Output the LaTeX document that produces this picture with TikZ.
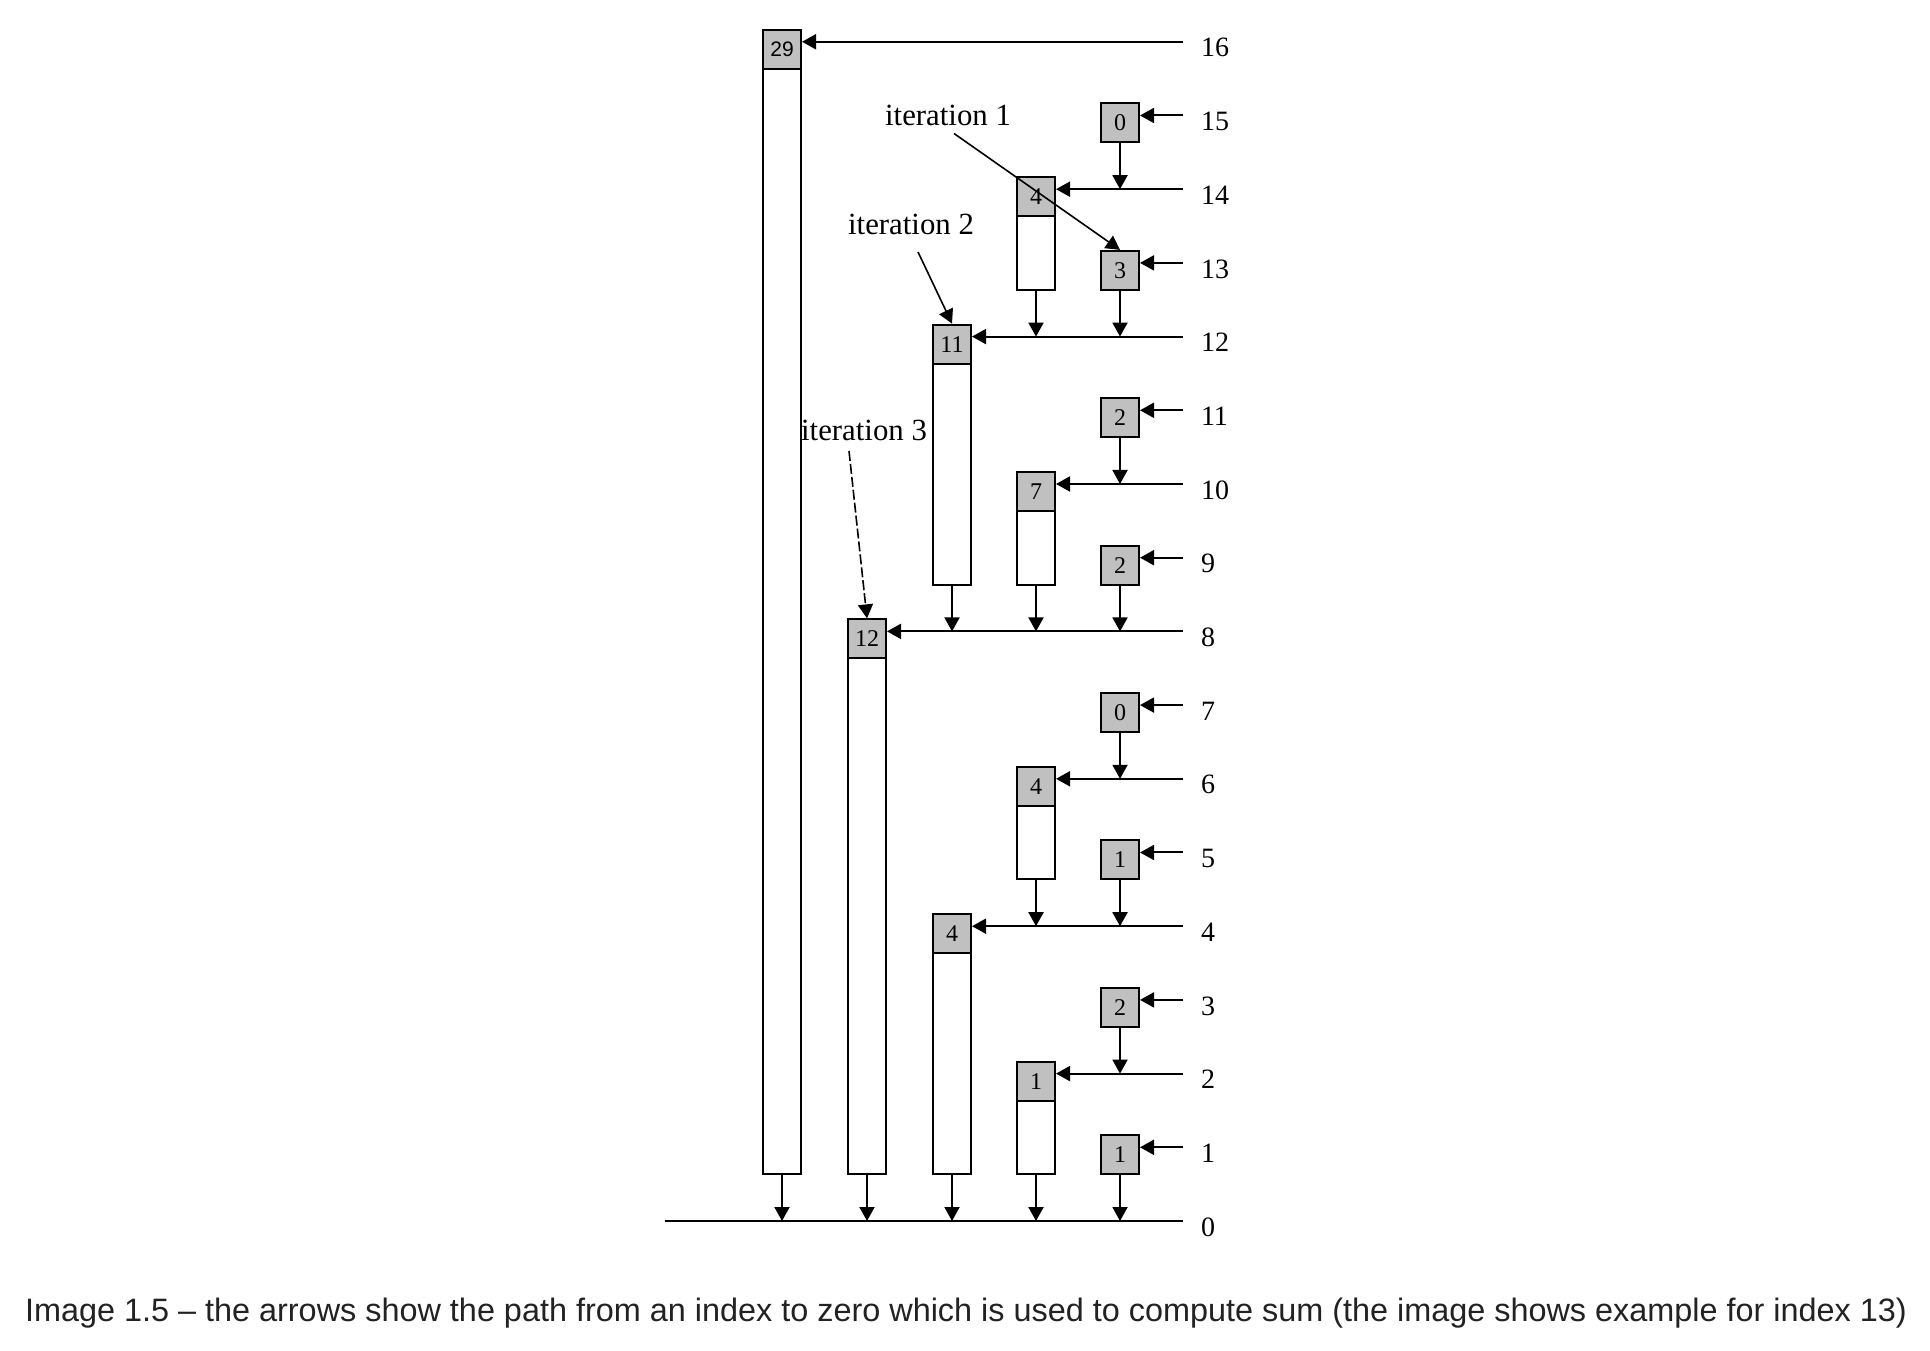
\documentclass[tikz,border=0pt]{standalone}
\usepackage{fontspec}
\setmainfont{Liberation Serif}
\newfontfamily\capfont{Liberation Sans}
\usepackage{tikz}
\usetikzlibrary{positioning, arrows.meta}
\definecolor{cellgray}{RGB}{192,192,192}
\definecolor{captext}{RGB}{34,34,34}
\tikzset{
  cell/.style    = {draw, fill=cellgray, minimum width=19pt,
                    minimum height=19.5pt, inner sep=0pt,
                    anchor=north, yshift=6.5pt,
                    font=\fontsize{12}{12}\selectfont},
  stembox/.style = {draw, fill=white, minimum width=19pt,
                    minimum height=#1, inner sep=0pt},
  idx/.style     = {inner sep=0pt, yshift=-3pt,
                    font=\fontsize{14}{14}\selectfont},
  iter/.style    = {font=\fontsize{15.4}{16}\selectfont},
  arr/.style     = {-{Triangle[length=7pt, width=7.5pt]}},
  caption/.style = {text=captext, inner sep=0pt,
                    font=\capfont\fontsize{16.2}{19}\selectfont},
}

\begin{document}
\begin{tikzpicture}[x=0.5pt, y=36.85pt, line width=1pt]

    \useasboundingbox (0,-1.7504) rectangle (1930,16.5672);

    % right ends of the index lines
    \coordinate (r16) at (1183,16);  \coordinate (r15) at (1183,15);
    \coordinate (r14) at (1183,14);  \coordinate (r13) at (1183,13);
    \coordinate (r12) at (1183,12);  \coordinate (r11) at (1183,11);
    \coordinate (r10) at (1183,10);  \coordinate (r9)  at (1183,9);
    \coordinate (r8)  at (1183,8);   \coordinate (r7)  at (1183,7);
    \coordinate (r6)  at (1183,6);   \coordinate (r5)  at (1183,5);
    \coordinate (r4)  at (1183,4);   \coordinate (r3)  at (1183,3);
    \coordinate (r2)  at (1183,2);   \coordinate (r1)  at (1183,1);
    \coordinate (r0)  at (1183,0);   \coordinate (z0)  at (664.7,0);

    \node[idx, right=8.5pt of r16] (i16) {16};
    \node[idx, right=8.5pt of r15] (i15) {15};
    \node[idx, right=8.5pt of r14] (i14) {14};
    \node[idx, right=8.5pt of r13] (i13) {13};
    \node[idx, right=8.5pt of r12] (i12) {12};
    \node[idx, right=8.5pt of r11] (i11) {11};
    \node[idx, right=8.5pt of r10] (i10) {10};
    \node[idx, right=8.5pt of r9]  (i9)  {9};
    \node[idx, right=8.5pt of r8]  (i8)  {8};
    \node[idx, right=8.5pt of r7]  (i7)  {7};
    \node[idx, right=8.5pt of r6]  (i6)  {6};
    \node[idx, right=8.5pt of r5]  (i5)  {5};
    \node[idx, right=8.5pt of r4]  (i4)  {4};
    \node[idx, right=8.5pt of r3]  (i3)  {3};
    \node[idx, right=8.5pt of r2]  (i2)  {2};
    \node[idx, right=8.5pt of r1]  (i1)  {1};
    \node[idx, right=8.5pt of r0]  (i0)  {0};

    % tree cells (value box + covered range)
    \node[cell, font=\capfont\fontsize{10.5}{11}\selectfont] (v16) at (782,16) {29};
    \node[stembox=552.75pt, below=-1pt of v16] (s16) {};
    \node[cell] (v15) at (1120,15) {0};
    \node[cell] (v14) at (1036,14) {4};
    \node[stembox=36.85pt, below=-1pt of v14] (s14) {};
    \node[cell] (v13) at (1120,13) {3};
    \node[cell] (v12) at (952,12) {11};
    \node[stembox=110.55pt, below=-1pt of v12] (s12) {};
    \node[cell] (v11) at (1120,11) {2};
    \node[cell] (v10) at (1036,10) {7};
    \node[stembox=36.85pt, below=-1pt of v10] (s10) {};
    \node[cell] (v9) at (1120,9) {2};
    \node[cell] (v8) at (867,8) {12};
    \node[stembox=257.95pt, below=-1pt of v8] (s8) {};
    \node[cell] (v7) at (1120,7) {0};
    \node[cell] (v6) at (1036,6) {4};
    \node[stembox=36.85pt, below=-1pt of v6] (s6) {};
    \node[cell] (v5) at (1120,5) {1};
    \node[cell] (v4) at (952,4) {4};
    \node[stembox=110.55pt, below=-1pt of v4] (s4) {};
    \node[cell] (v3) at (1120,3) {2};
    \node[cell] (v2) at (1036,2) {1};
    \node[stembox=36.85pt, below=-1pt of v2] (s2) {};
    \node[cell] (v1) at (1120,1) {1};

    % index lines into the cells
    \draw[arr] (r16) -- (r16 -| v16.east);
    \draw[arr] (r15) -- (r15 -| v15.east);
    \draw[arr] (r14) -- (r14 -| v14.east);
    \draw[arr] (r13) -- (r13 -| v13.east);
    \draw[arr] (r12) -- (r12 -| v12.east);
    \draw[arr] (r11) -- (r11 -| v11.east);
    \draw[arr] (r10) -- (r10 -| v10.east);
    \draw[arr] (r9)  -- (r9 -| v9.east);
    \draw[arr] (r8)  -- (r8 -| v8.east);
    \draw[arr] (r7)  -- (r7 -| v7.east);
    \draw[arr] (r6)  -- (r6 -| v6.east);
    \draw[arr] (r5)  -- (r5 -| v5.east);
    \draw[arr] (r4)  -- (r4 -| v4.east);
    \draw[arr] (r3)  -- (r3 -| v3.east);
    \draw[arr] (r2)  -- (r2 -| v2.east);
    \draw[arr] (r1)  -- (r1 -| v1.east);
    \draw (z0) -- (r0);

    % parent links
    \draw[arr] (s16.south) -- (s16.south |- r0);
    \draw[arr] (v15.south) -- (v15.south |- r14);
    \draw[arr] (s14.south) -- (s14.south |- r12);
    \draw[arr] (v13.south) -- (v13.south |- r12);
    \draw[arr] (s12.south) -- (s12.south |- r8);
    \draw[arr] (v11.south) -- (v11.south |- r10);
    \draw[arr] (s10.south) -- (s10.south |- r8);
    \draw[arr] (v9.south)  -- (v9.south |- r8);
    \draw[arr] (s8.south)  -- (s8.south |- r0);
    \draw[arr] (v7.south)  -- (v7.south |- r6);
    \draw[arr] (s6.south)  -- (s6.south |- r4);
    \draw[arr] (v5.south)  -- (v5.south |- r4);
    \draw[arr] (s4.south)  -- (s4.south |- r0);
    \draw[arr] (v3.south)  -- (v3.south |- r2);
    \draw[arr] (s2.south)  -- (s2.south |- r0);
    \draw[arr] (v1.south)  -- (v1.south |- r0);

    % iterations for index 13
    \node[iter] (it1) at (948,15) {iteration 1};
    \node[iter] (it2) at (911,13.528) {iteration 2};
    \node[iter] (it3) at (864,10.733) {iteration 3};

    \draw[arr, line width=0.8pt] ([xshift=3pt]it1.south) -- (v13.north);
    \draw[arr, line width=0.8pt] ([xshift=3.5pt, yshift=-5pt]it2.south) -- (v12.north);
    \draw[arr, line width=0.8pt, dash pattern=on 5pt off 1.5pt]
        ([xshift=-7.5pt, yshift=-1.5pt]it3.south) -- (v8.north);

    \node[caption, anchor=base] (cap) at (966,-1.3569)
    {Image 1.5 – the arrows show the path from an index to zero which is used to compute sum (the image shows example for index 13)};

\end{tikzpicture}
\end{document}
